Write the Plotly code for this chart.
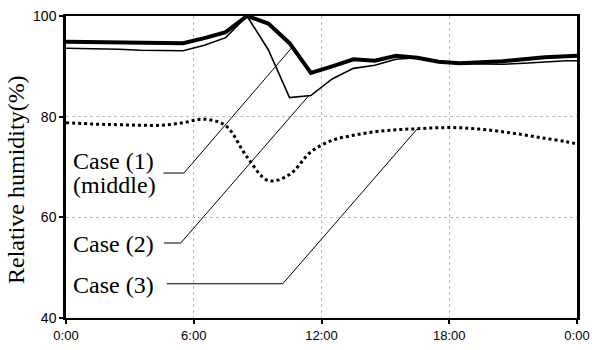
import numpy as np
import plotly.graph_objects as go

hours = [0, 1.5, 2.5, 3.5, 4.5, 5.5, 6.5, 7.5, 8.5, 9.5, 10.5, 11.5, 12.5,
         13.5, 14.5, 15.5, 16.5, 17.5, 18.5, 19.5, 20.5, 21.5, 22.5, 23.5, 24]
case1 = [94.9, 94.8, 94.8, 94.7, 94.6, 94.6, 95.6, 96.8, 100.0, 98.5, 94.6, 88.7, 90.0,
         91.4, 91.1, 92.1, 91.7, 90.9, 90.6, 90.8, 91.0, 91.4, 91.8, 92.0, 92.1]
case2 = [93.6, 93.5, 93.4, 93.2, 93.1, 93.1, 94.2, 95.7, 100.0, 93.3, 83.8, 84.2, 87.5,
         89.6, 90.2, 91.4, 91.7, 90.8, 90.5, 90.4, 90.4, 90.6, 90.9, 91.1, 91.1]
case3 = [78.8, 78.5, 78.4, 78.3, 78.3, 78.8, 79.5, 78.2, 72.0, 67.3, 68.5, 73.0, 75.3,
         76.3, 77.0, 77.4, 77.6, 77.8, 77.8, 77.5, 77.0, 76.4, 75.7, 75.0, 74.6]

tick_vals = [0, 6, 12, 18, 24]
tick_text = ["0:00", "6:00", "12:00", "18:00", "0:00"]
y_ticks = [40, 60, 80, 100]

fig = go.Figure()
fig.add_trace(go.Scatter(x=hours, y=case2, mode="lines",
                         line=dict(color="black", width=1.6)))
fig.add_trace(go.Scatter(x=hours, y=case1, mode="lines",
                         line=dict(color="black", width=4)))
fig.add_trace(go.Scatter(x=hours, y=case3, mode="lines",
                         line=dict(color="black", width=3, dash="dot", shape="spline")))

leaders = [
    (4.57, 68.8, 5.54, 10.63, case1),
    (4.60, 54.9, 5.39, 11.40, case2),
    (4.73, 46.8, 10.18, 16.50, case3),
]
for x0, y0, xk, xt, ser in leaders:
    yt = float(np.interp(xt, hours, ser))
    fig.add_shape(type="line", x0=x0, y0=y0, x1=xk, y1=y0, xref="x", yref="y",
                  line=dict(color="black", width=1))
    fig.add_shape(type="line", x0=xk, y0=y0, x1=xt, y1=yt, xref="x", yref="y",
                  line=dict(color="black", width=1))

serif = "Times New Roman"
sans = "Arial"
labels = [("Case (1)", 71.1), ("(middle)", 66.5), ("Case (2)", 54.8), ("Case (3)", 46.6)]
for txt, yv in labels:
    fig.add_annotation(x=0.22, y=yv, xref="x", yref="y", text=txt, showarrow=False,
                       xanchor="left", yanchor="middle",
                       font=dict(family=serif, size=24, color="black"))

fig.add_annotation(x=-0.098, y=0.46, xref="paper", yref="paper",
                   text="Relative humidity(%)", showarrow=False, textangle=-90,
                   xanchor="center", yanchor="middle",
                   font=dict(family=serif, size=24, color="black"))

fig.update_layout(
    width=592, height=350,
    margin=dict(l=66, r=15, t=16, b=32, autoexpand=False),
    paper_bgcolor="white", plot_bgcolor="white",
    showlegend=False,
    font=dict(family=serif),
    xaxis=dict(range=[0, 24], tickvals=tick_vals, ticktext=tick_text, automargin=False,
               showgrid=True, gridcolor="#bdbdbd", gridwidth=1, griddash="dot",
               showline=True, linecolor="black", linewidth=2, mirror=True,
               ticks="outside", ticklen=4, tickcolor="black", tickwidth=1.5,
               zeroline=False,
               tickfont=dict(family=sans, size=13, color="black")),
    yaxis=dict(range=[40, 100], tickvals=y_ticks, automargin=False,
               showgrid=True, gridcolor="#bdbdbd", gridwidth=1, griddash="dot",
               showline=True, linecolor="black", linewidth=2.5, mirror=True,
               ticks="outside", ticklen=4, tickcolor="black", tickwidth=1.5,
               zeroline=False,
               tickfont=dict(family=sans, size=14, color="black")),
)

fig.write_html("out.html", config={"displayModeBar": False},
               post_script="document.body.style.margin='0';document.body.style.padding='0';")
